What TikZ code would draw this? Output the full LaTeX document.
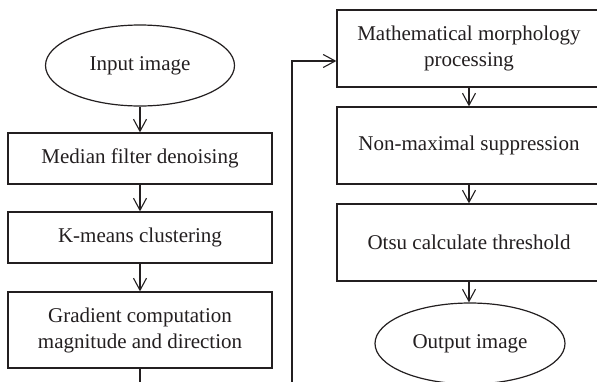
\documentclass[tikz,border=0pt]{standalone}
\usepackage{fontspec}
\setmainfont{Liberation Serif}
\usetikzlibrary{shapes.geometric,arrows.meta}
\definecolor{ink}{HTML}{231F20}
\begin{document}
\begin{tikzpicture}[x=1pt,y=-1pt,
  every node/.style={font=\fontsize{21}{26}\selectfont, text=ink, align=center, inner sep=0pt},
  procbox/.style={draw=ink, line width=1.3pt, rectangle, minimum width=264pt},
  termnode/.style={draw=ink, line width=1.2pt, ellipse, minimum width=189pt, minimum height=81pt},
  flow/.style={draw=ink, line width=1.3pt, -{Straight Barb[length=12pt,width=13pt,line width=1.1pt]}},
  link/.style={draw=ink, line width=1.3pt}]
\clip (0,0) rectangle (597,381);
\fill[white] (0,0) rectangle (597,381);

% left column
\node[termnode] (in) at (140,65.5) {Input image};
\node[procbox, minimum height=51pt] (med) at (140,158.5) {Median filter denoising};
\node[procbox, minimum height=51pt] (km) at (140,237.5) {K-means clustering};
\node[procbox, minimum height=76pt] (grad) at (140,330) {Gradient computation\\magnitude and direction};

% right column
\node[procbox, minimum height=77pt] (mm) at (469,48.5) {Mathematical morphology\\processing};
\node[procbox, minimum height=77pt] (nms) at (469,145.5) {Non-maximal suppression};
\node[procbox, minimum height=77pt] (otsu) at (469,242.5) {Otsu calculate threshold};
\node[termnode, minimum width=190pt] (out) at (470,343.5) {Output image};

% connectors
\draw[flow] (in) -- (med);
\draw[flow] (med) -- (km);
\draw[flow] (km) -- (grad);
\coordinate (turnA) at (140,400);
\coordinate (turnB) at (292,400);
\coordinate (turnC) at (292,61);
\draw[flow] (grad.south) -- (turnA) -- (turnB) -- (turnC) -- (turnC -| mm.west);
\draw[flow] (mm) -- (nms);
\draw[flow] (nms) -- (otsu);
\draw[flow] (otsu.south) -- (otsu.south |- out.north);
\end{tikzpicture}
\end{document}
